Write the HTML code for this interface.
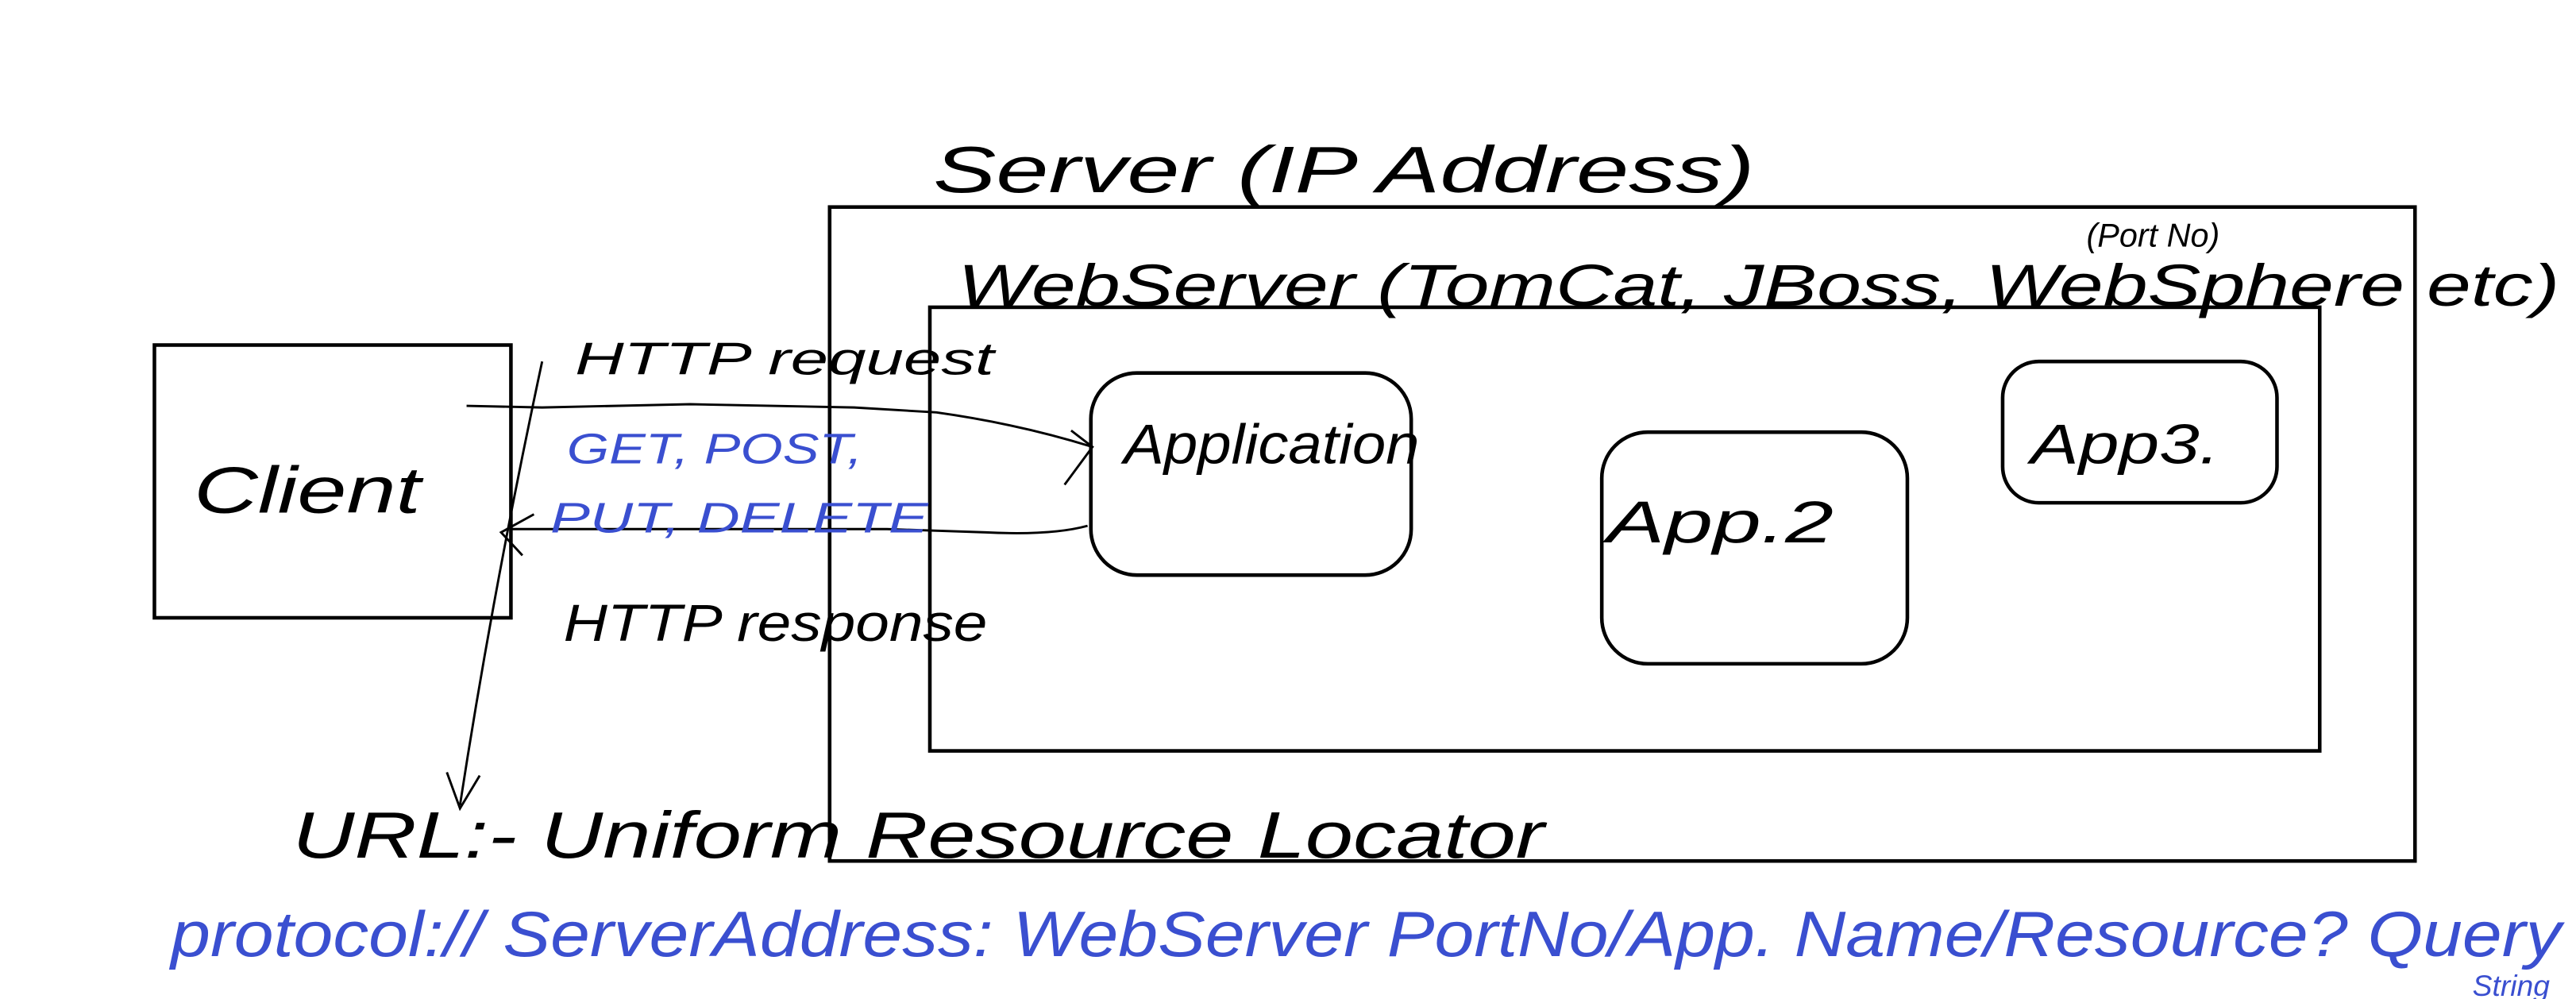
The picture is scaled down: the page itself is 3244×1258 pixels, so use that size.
<!DOCTYPE html>
<html><head><style>
html,body{margin:0;padding:0;background:#fff;}
svg{display:block;}
text{font-family:"Liberation Sans",sans-serif;font-style:italic;}
</style></head><body>
<svg width="3244" height="1258" viewBox="0 0 1568 608" preserveAspectRatio="none" xmlns="http://www.w3.org/2000/svg">
<rect width="1568" height="608" fill="#fff"/>
<g fill="none" stroke="#000" stroke-width="2.2">
<rect x="94" y="210" width="217" height="166"/>
<rect x="505" y="126" width="965" height="398"/>
<rect x="566" y="187" width="846" height="270"/>
<rect x="664" y="227" width="195" height="123" rx="28"/>
<rect x="975" y="263" width="186" height="141" rx="28"/>
<rect x="1219" y="220" width="167" height="86" rx="22"/>
</g>
<g fill="none" stroke="#000" stroke-width="1.4">
<path d="M284 247 L330 248 L420 246 L520 248 L570 251 Q620 258 665 272"/>
<path d="M652 262 L665 272 L648 295"/>
<path d="M662 320 Q640 326 600 324 L540 322 L430 322 L310 322"/>
<path d="M325 313 L305 324 L318 338"/>
<path d="M330 220 Q300 360 280 490"/>
<path d="M272 470 L280 492 L292 472"/>
</g>
<g fill="#000">
<text x="568" y="117" font-size="40" textLength="500" lengthAdjust="spacingAndGlyphs">Server (IP Address)</text>
<text x="583" y="186" font-size="36" textLength="975" lengthAdjust="spacingAndGlyphs">WebServer (TomCat, JBoss, WebSphere etc)</text>
<text x="1270" y="150" font-size="20">(Port No)</text>
<text x="350" y="228" font-size="28" textLength="255" lengthAdjust="spacingAndGlyphs">HTTP request</text>
<text x="343" y="390" font-size="32" textLength="258" lengthAdjust="spacingAndGlyphs">HTTP response</text>
<text x="118" y="312" font-size="40" textLength="138" lengthAdjust="spacingAndGlyphs">Client</text>
<text x="684" y="282" font-size="34" textLength="180" lengthAdjust="spacingAndGlyphs">Application</text>
<text x="978" y="330" font-size="36" textLength="138" lengthAdjust="spacingAndGlyphs">App.2</text>
<text x="1236" y="282" font-size="34" textLength="115" lengthAdjust="spacingAndGlyphs">App3.</text>
<text x="178" y="522" font-size="40" textLength="762" lengthAdjust="spacingAndGlyphs">URL:- Uniform Resource Locator</text>
</g>
<g fill="#3a4fd0">
<text x="345" y="282" font-size="26" textLength="180" lengthAdjust="spacingAndGlyphs">GET, POST,</text>
<text x="335" y="324" font-size="26" textLength="230" lengthAdjust="spacingAndGlyphs">PUT, DELETE</text>
<text x="104" y="582" font-size="39" textLength="1455" lengthAdjust="spacingAndGlyphs">protocol:// ServerAddress: WebServer PortNo/App. Name/Resource? Query</text>
<text x="1505" y="606" font-size="18">String</text>
</g>
</svg>
</body></html>
